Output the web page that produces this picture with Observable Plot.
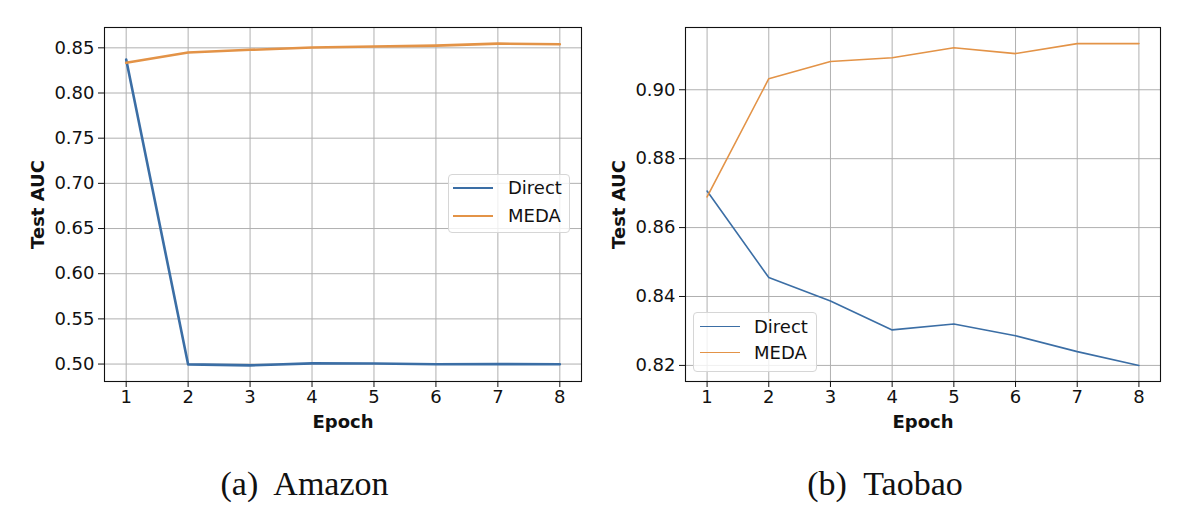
<!DOCTYPE html>
<html>
<head>
<meta charset="utf-8">
<script src="https://cdn.jsdelivr.net/npm/d3@7"></script>
<script src="https://cdn.jsdelivr.net/npm/@observablehq/plot@0.6"></script>
<style>
  html, body { margin: 0; padding: 0; background: #fff; }
  #wrap { position: relative; width: 1194px; height: 509px; overflow: hidden; background: #fff; }
  .panel { position: absolute; top: 0; }
  .legend { position: absolute; border: 1px solid #d6d6d6; border-radius: 4px; background: rgba(255,255,255,0.8); box-sizing: border-box; }
  .sample { position: absolute; height: 0; }
  .ltext { position: absolute; font-family: "DejaVu Sans", sans-serif; font-size: 18px; line-height: 18px; color: #111; }
  .caption { position: absolute; font-family: "Liberation Serif", serif; font-size: 34px; line-height: 34px; color: #111; transform: translateX(-50%); white-space: pre; }
</style>
</head>
<body>
<div id="wrap"></div>
<script>
// ---- data ----
const epochs = [1, 2, 3, 4, 5, 6, 7, 8];
const seriesNames = ["Direct", "MEDA"];
const seriesColors = ["#3b6ea5", "#e39347"];

const amazonDirect = [0.837, 0.4996, 0.4985, 0.5007, 0.5006, 0.4998, 0.4999, 0.4998];
const amazonMEDA   = [0.8334, 0.8448, 0.8478, 0.8503, 0.8514, 0.8525, 0.8547, 0.854];
const amazonYTicks = [0.50, 0.55, 0.60, 0.65, 0.70, 0.75, 0.80, 0.85];

const taobaoDirect = [0.8706, 0.8455, 0.8387, 0.8303, 0.832, 0.8286, 0.824, 0.820];
const taobaoMEDA   = [0.8689, 0.9032, 0.9082, 0.9093, 0.9122, 0.9105, 0.9134, 0.9134];
const taobaoYTicks = [0.82, 0.84, 0.86, 0.88, 0.90];

const xLabel = "Epoch";
const yLabel = "Test AUC";
const captions = ["(a)  Amazon", "(b)  Taobao"];

function toRows(direct, meda) {
  const rows = [];
  epochs.forEach((e, i) => rows.push({epoch: e, auc: direct[i], series: "Direct"}));
  epochs.forEach((e, i) => rows.push({epoch: e, auc: meda[i], series: "MEDA"}));
  return rows;
}

function makeChart(rows, yTicks, opts) {
  const ys = rows.map(d => d.auc);
  const lo = d3.min(ys), hi = d3.max(ys);
  const pad = (hi - lo) * 0.05;
  return Plot.plot({
    width: 597,
    height: 440,
    marginLeft: opts.marginLeft,
    marginRight: opts.marginRight,
    marginTop: 27,
    marginBottom: 59,
    style: {fontFamily: "DejaVu Sans, sans-serif", fontSize: "18px", color: "#111", background: "transparent"},
    x: {domain: [1 - 0.35, 8 + 0.35]},
    y: {domain: [lo - pad, hi + pad]},
    color: {domain: seriesNames, range: seriesColors},
    marks: [
      Plot.gridX(epochs, {stroke: "#b0b0b0", strokeOpacity: 1, strokeWidth: 1}),
      Plot.gridY(yTicks, {stroke: "#b0b0b0", strokeOpacity: 1, strokeWidth: 1}),
      Plot.line(rows, {x: "epoch", y: "auc", z: "series", stroke: "series", strokeWidth: opts.lineWidth}),
      Plot.frame({stroke: "#111", strokeWidth: 1.1}),
      Plot.axisX(epochs, {tickSize: 6, tickPadding: 3, fontSize: 18, label: null, stroke: "#111"}),
      Plot.axisY(yTicks, {tickSize: 6, tickPadding: 4, fontSize: 18, label: null, tickFormat: d3.format(".2f"), stroke: "#111"}),
      Plot.text([xLabel], {text: d => d, frameAnchor: "bottom", dy: 41, lineAnchor: "middle", textAnchor: "middle", fontWeight: "bold", fontSize: 18}),
      Plot.text([yLabel], {text: d => d, frameAnchor: "left", dx: -66, rotate: -90, lineAnchor: "middle", textAnchor: "middle", fontWeight: "bold", fontSize: 18})
    ]
  });
}

const wrap = document.getElementById("wrap");

function addPanel(left, chart) {
  const div = document.createElement("div");
  div.className = "panel";
  div.style.left = left + "px";
  div.appendChild(chart);
  wrap.appendChild(div);
}

addPanel(0, makeChart(toRows(amazonDirect, amazonMEDA), amazonYTicks, {marginLeft: 104, marginRight: 16, lineWidth: 2.6}));
addPanel(597, makeChart(toRows(taobaoDirect, taobaoMEDA), taobaoYTicks, {marginLeft: 88, marginRight: 34, lineWidth: 1.6}));

function addLegend(box, sx0, sx1, rowsY, tx, lw) {
  const lg = document.createElement("div");
  lg.className = "legend";
  lg.style.left = box[0] + "px"; lg.style.top = box[1] + "px";
  lg.style.width = box[2] + "px"; lg.style.height = box[3] + "px";
  wrap.appendChild(lg);
  seriesNames.forEach((name, i) => {
    const s = document.createElement("div");
    s.className = "sample";
    s.style.left = sx0 + "px";
    s.style.width = (sx1 - sx0) + "px";
    s.style.top = (rowsY[i] - lw / 2) + "px";
    s.style.borderTop = lw + "px solid " + seriesColors[i];
    wrap.appendChild(s);
    const t = document.createElement("div");
    t.className = "ltext";
    t.textContent = name;
    t.style.left = tx + "px";
    t.style.top = (rowsY[i] - 9) + "px";
    wrap.appendChild(t);
  });
}

addLegend([448, 174, 122, 59], 453, 493, [188, 216], 508, 2.6);
addLegend([693, 312, 124, 60], 700, 740, [327, 353], 754, 1.6);

[[304.5, captions[0]], [885, captions[1]]].forEach(([cx, txt]) => {
  const c = document.createElement("div");
  c.className = "caption";
  c.textContent = txt;
  c.style.left = cx + "px";
  c.style.top = "467px";
  wrap.appendChild(c);
});
</script>
</body>
</html>
